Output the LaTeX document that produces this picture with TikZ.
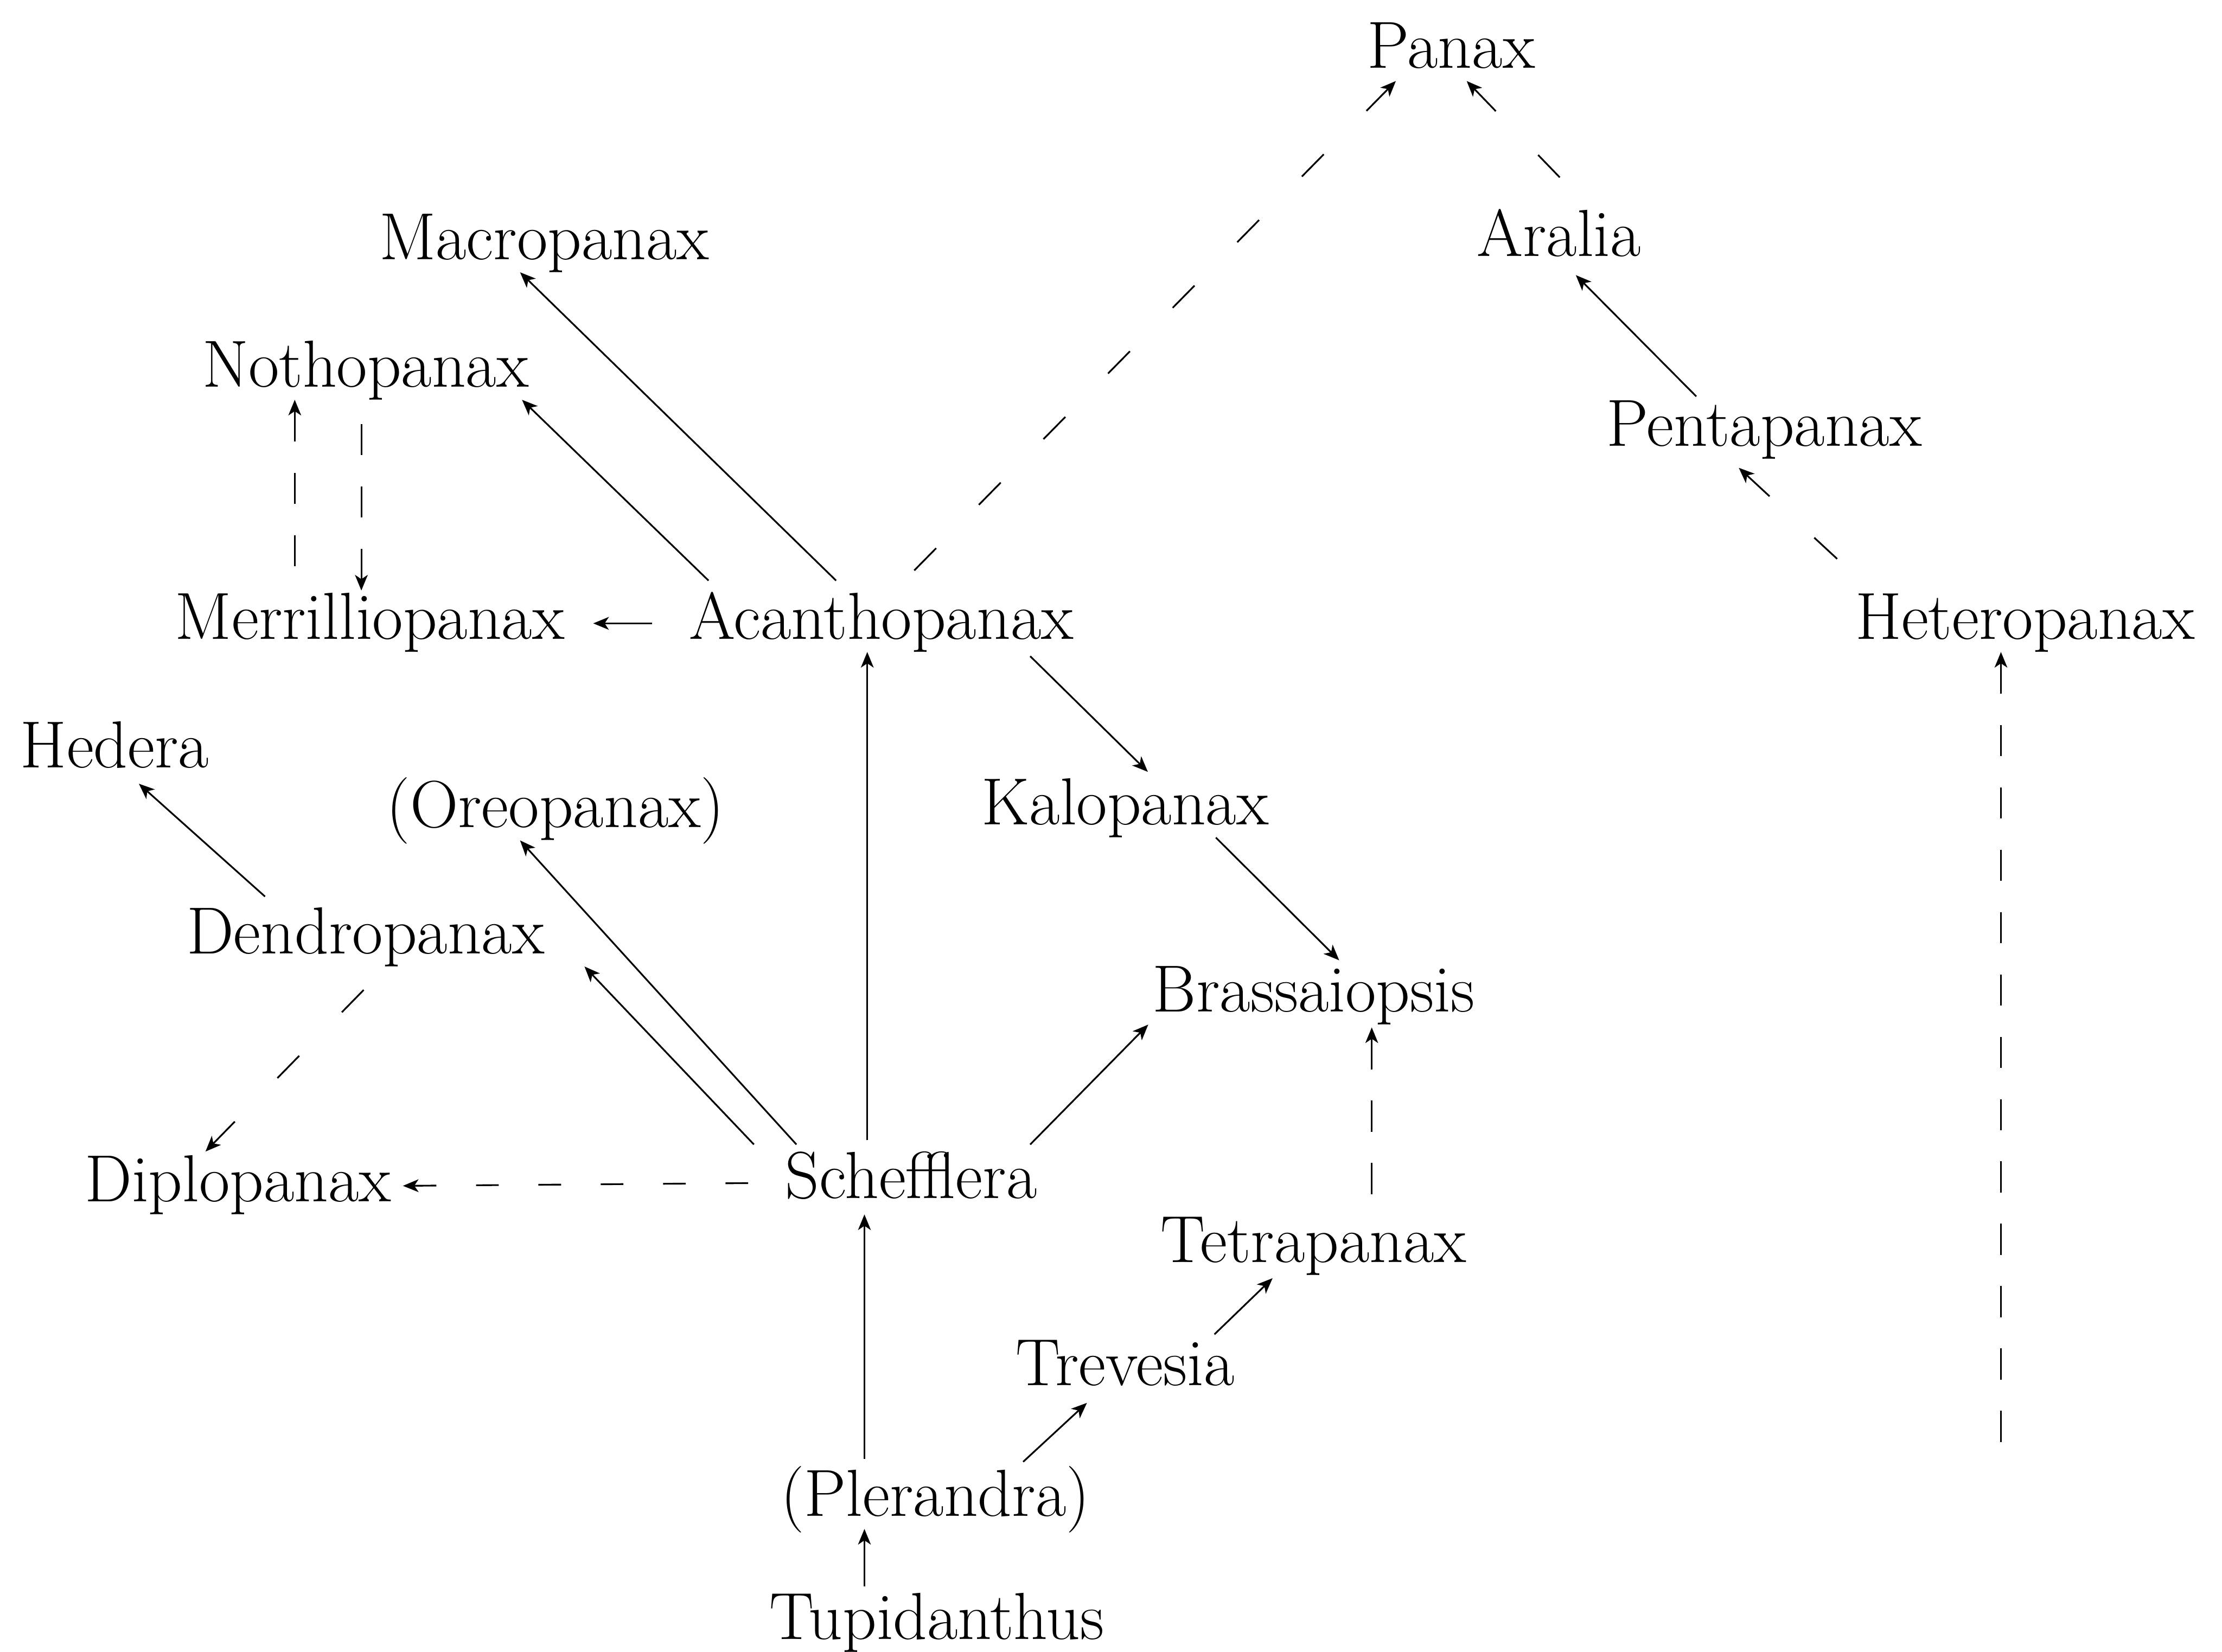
\documentclass[tikz,border=0pt]{standalone}
\usepackage{tikz}
\usetikzlibrary{arrows.meta}

\begin{document}
\begin{tikzpicture}[x=1pt, y=-1pt,
      genus/.style={font=\fontsize{47}{54}\selectfont, inner sep=0pt, text height=31pt, text depth=9pt},
      pre/.style={{Stealth[length=11pt,width=9pt,inset=3pt]}-, line width=1.2pt},
      post/.style={-{Stealth[length=11pt,width=9pt,inset=3pt]}, line width=1.2pt},
      dpre/.style={pre, dash pattern=on 22pt off 22pt},
      wpre/.style={pre, dash pattern=on 22pt off 43pt}
      ]
      \useasboundingbox (0,0) rectangle (1568,1166);

      \node[genus] (panax)  at (1024,37)  {Panax};
      \node[genus] (macro)  at (384,172)  {Macropanax};
      \node[genus] (aralia) at (1100,170) {Aralia};
      \node[genus] (notho)  at (258,262)  {Nothopanax};
      \node[genus] (penta)  at (1245,304) {Pentapanax};
      \node[genus] (merr)   at (261,440)  {Merrilliopanax};
      \node[genus] (acan)   at (622,440)  {Acanthopanax};
      \node[genus] (hetero) at (1429,440) {Heteropanax};
      \node[genus] (hedera) at (81,531)   {Hedera};
      \node[genus] (oreo)   at (392,573)  {(Oreopanax)};
      \node[genus] (kalo)   at (794,571)  {Kalopanax};
      \node[genus] (dendro) at (258,662)  {Dendropanax};
      \node[genus] (brass)  at (927,703)  {Brassaiopsis};
      \node[genus] (diplo)  at (168,837)  {Diplopanax};
      \node[genus] (scheff) at (643,835)  {Schefflera};
      \node[genus] (tetra)  at (927,880)  {Tetrapanax};
      \node[genus] (trev)   at (794,967)  {Trevesia};
      \node[genus] (pler)   at (660,1059) {(Plerandra)};
      \node[genus] (tupid)  at (661,1146) {Tupidanthus};
      \coordinate (hetroot) at (1412,1022);

      \draw[wpre] ([xshift=-39]panax.south) -- ([xshift=23,yshift=17]acan.north);
      \draw[wpre] ([xshift=11]panax.south) -- ([xshift=8,yshift=17]aralia.north);
      \draw[post] ([xshift=-48,yshift=4]penta.north) -- ([xshift=12,yshift=-4]aralia.south);
      \draw[wpre] ([xshift=-18,yshift=-6]penta.south) -- ([xshift=-129,yshift=22]hetero.north);
      \draw[dpre] ([xshift=-17]hetero.south) -- (hetroot);

      \draw[post] ([xshift=-32,yshift=10]acan.north) -- ([xshift=-17]macro.south);
      \draw[post] ([xshift=-122,yshift=10]acan.north) -- ([xshift=-5]notho.south east);
      \draw[dpre] ([xshift=-50]notho.south) -- ([xshift=-53,yshift=15]merr.north);
      \draw[dpre] ([xshift=-6,yshift=3]merr.north) -- ([xshift=-3,yshift=-8]notho.south);
      \draw[post] ([xshift=-26]acan.west) -- ([xshift=20]merr.east);
      \draw[post] ([xshift=105,yshift=-3]acan.south) -- ([xshift=16,yshift=6]kalo.north);
      \draw[post] ([xshift=64]kalo.south) -- ([xshift=18,yshift=5]brass.north);

      \draw[post] ([xshift=-31,yshift=10]scheff.north) -- ([xshift=-10]acan.south);
      \draw[post] ([xshift=-71,yshift=9]dendro.north) -- ([xshift=17,yshift=-2]hedera.south);
      \draw[post] ([xshift=-81,yshift=7]scheff.north) -- ([xshift=-25]oreo.south);
      \draw[post] ([xshift=-111,yshift=7]scheff.north) -- ([xshift=28]dendro.south east);
      \draw[wpre] ([xshift=-23,yshift=4]diplo.north) -- ([xshift=7,yshift=-8]dendro.south);
      \draw[pre, dash pattern=on 16pt off 28pt] ([xshift=8]diplo.east) -- ([xshift=-15]scheff.west);
      \draw[post] ([xshift=84,yshift=7]scheff.north) -- ([xshift=-3]brass.south west);
      \draw[dpre] ([xshift=41,yshift=-2]brass.south) -- ([xshift=41,yshift=15]tetra.north);

      \draw[post] ([xshift=-50,yshift=9]pler.north) -- ([xshift=-33,yshift=-2]scheff.south);
      \draw[post] ([xshift=62,yshift=7]pler.north) -- ([xshift=-27,yshift=-3]trev.south);
      \draw[post] ([xshift=63,yshift=5]trev.north) -- ([xshift=-29,yshift=-2]tetra.south);
      \draw[post] ([xshift=-51,yshift=6]tupid.north) -- ([xshift=-50]pler.south);
    \end{tikzpicture}
\end{document}
